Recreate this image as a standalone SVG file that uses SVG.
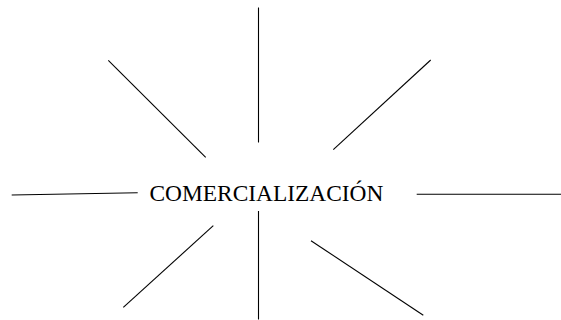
<svg xmlns="http://www.w3.org/2000/svg" width="561" height="320" viewBox="0 0 561 320">
<style>
.c line{stroke:#000;stroke-width:1.1;fill:none}
.t{font-family:"Liberation Serif","Times New Roman",serif;font-size:23.4px;fill:#000}
</style>
<rect width="561" height="320" fill="#fff"/>
<g id="connectors" class="c">
<line x1="258.5" y1="7.5" x2="258.5" y2="142.5"/>
<line x1="108.3" y1="60.3" x2="205.7" y2="157.3"/>
<line x1="430.7" y1="60" x2="333.3" y2="149.7"/>
<line x1="11.7" y1="195" x2="137.7" y2="192.7"/>
<line x1="416.7" y1="194.3" x2="561" y2="194.3"/>
<line x1="213.3" y1="225.7" x2="123.3" y2="307.3"/>
<line x1="258.5" y1="211" x2="258.5" y2="319.5"/>
<line x1="311" y1="240.7" x2="423.3" y2="315.3"/>
</g>
<g id="node-comercializacion">
<text class="t" x="149.5" y="200.8">COMERCIALIZACIÓN</text>
</g>
</svg>
